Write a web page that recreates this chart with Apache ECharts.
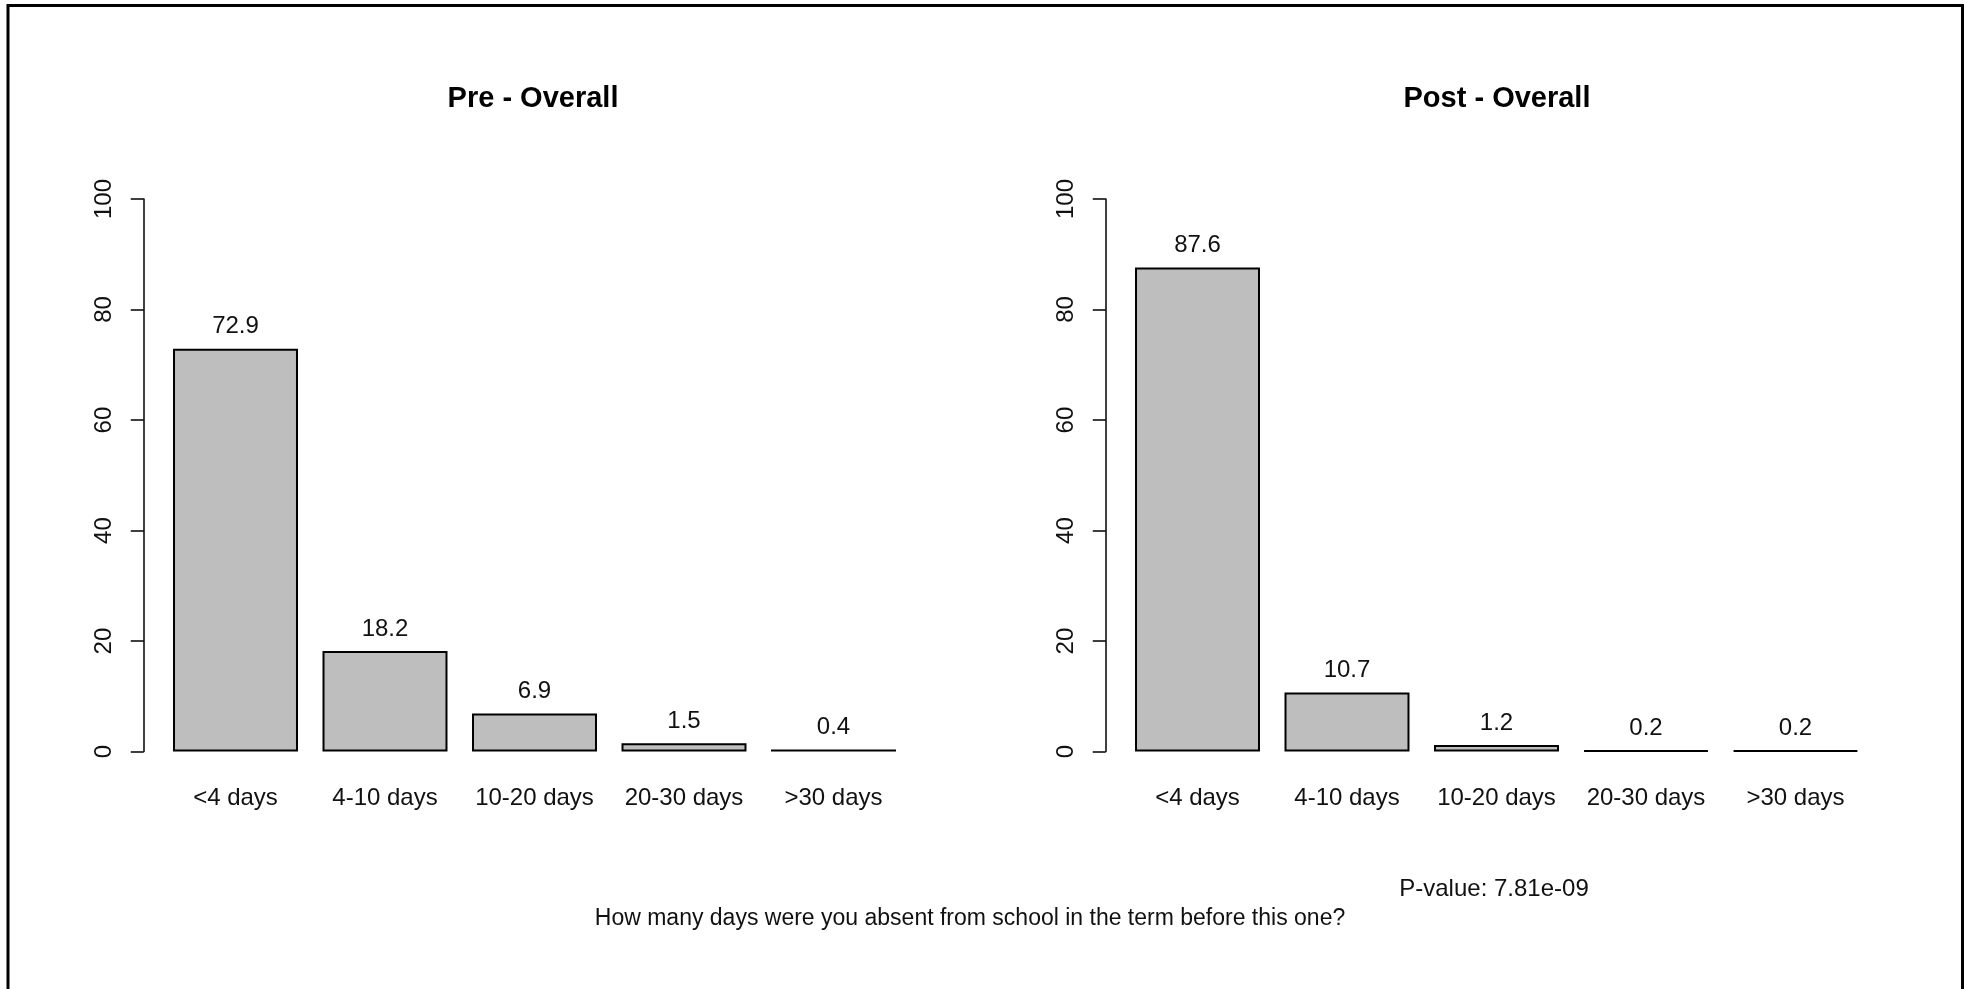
<!DOCTYPE html>
<html><head><meta charset="utf-8">
<script src="https://cdn.jsdelivr.net/npm/echarts@6/dist/echarts.min.js"></script>
<style>html,body{margin:0;padding:0;background:#fff}#c{width:1964px;height:989px}</style>
</head><body><div id="c"></div>
<script>
// ---- data ----
const categories = ['<4 days', '4-10 days', '10-20 days', '20-30 days', '>30 days'];
const preValues = [72.9, 18.2, 6.9, 1.5, 0.4];
const postValues = [87.6, 10.7, 1.2, 0.2, 0.2];
const yTicks = [0, 20, 40, 60, 80, 100];
const panelTitles = ['Pre - Overall', 'Post - Overall'];
const pValueText = 'P-value: 7.81e-09';
const xAxisTitle = 'How many days were you absent from school in the term before this one?';

// ---- layout ----
const FONT = '"Liberation Sans", Arial, Helvetica, sans-serif';
const gridLeft = [160.75, 1122.75];
const gridWidth = 747.5;
const gridTop = 199;
const gridHeight = 552.6;

const chart = echarts.init(document.getElementById('c'), null, {renderer: 'canvas'});

function makeYAxis(i) {
  return {
    type: 'value', gridIndex: i,
    min: yTicks[0], max: yTicks[yTicks.length - 1],
    interval: yTicks[1] - yTicks[0],
    offset: 17,
    splitLine: {show: false},
    axisLine: {show: true, lineStyle: {color: '#000', width: 1.5}},
    axisTick: {show: true, length: 13, lineStyle: {color: '#000', width: 1.5}},
    axisLabel: {rotate: 90, margin: 27, fontSize: 24, color: '#111', fontFamily: FONT}
  };
}
function makeXAxis(i) {
  return {
    type: 'category', gridIndex: i, data: categories,
    axisLine: {show: false}, axisTick: {show: false},
    axisLabel: {margin: 35, fontSize: 24, color: '#111', fontFamily: FONT, interval: 0}
  };
}
function makeSeries(i, values) {
  return {
    type: 'bar', xAxisIndex: i, yAxisIndex: i, data: values,
    barWidth: '83.6%',
    itemStyle: {color: '#bebebe', borderColor: '#000', borderWidth: 2},
    label: {show: true, position: 'top', distance: 10, fontSize: 24, color: '#111',
            fontFamily: FONT, formatter: p => p.value.toFixed(1)},
    emphasis: {disabled: true}
  };
}

chart.setOption({
  animation: false,
  backgroundColor: '#fff',
  grid: gridLeft.map(l => ({left: l, width: gridWidth, top: gridTop, height: gridHeight, outerBoundsMode: 'none', containLabel: false})),
  xAxis: [makeXAxis(0), makeXAxis(1)],
  yAxis: [makeYAxis(0), makeYAxis(1)],
  series: [makeSeries(0, preValues), makeSeries(1, postValues)],
  graphic: [
    {type: 'rect', shape: {x: 8, y: 5.5, width: 1954.5, height: 1100}, style: {fill: 'none', stroke: '#000', lineWidth: 3}, silent: true},
    {type: 'text', x: 533, y: 99, style: {text: panelTitles[0], font: 'bold 29px ' + FONT, fill: '#000', textAlign: 'center', textVerticalAlign: 'middle'}},
    {type: 'text', x: 1497, y: 99, style: {text: panelTitles[1], font: 'bold 29px ' + FONT, fill: '#000', textAlign: 'center', textVerticalAlign: 'middle'}},
    {type: 'text', x: 1494, y: 889, style: {text: pValueText, font: '24px ' + FONT, fill: '#111', textAlign: 'center', textVerticalAlign: 'middle'}},
    {type: 'text', x: 970, y: 919, style: {text: xAxisTitle, font: '23px ' + FONT, fill: '#111', textAlign: 'center', textVerticalAlign: 'middle'}}
  ]
});
</script>
</body></html>
